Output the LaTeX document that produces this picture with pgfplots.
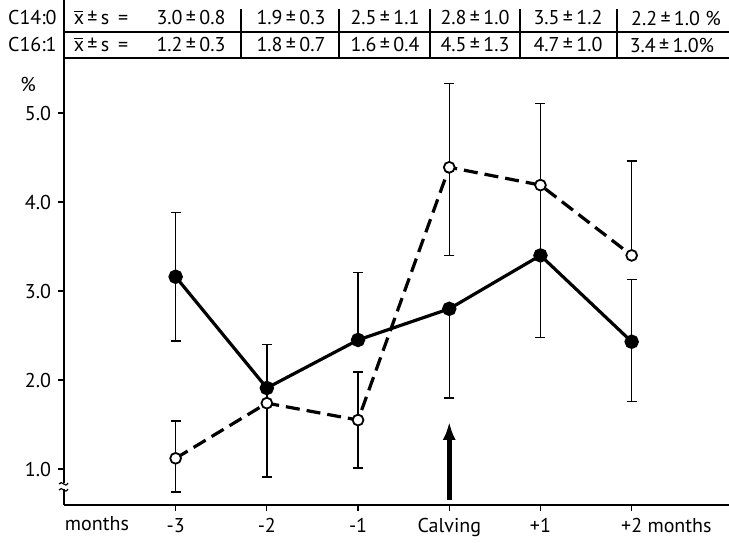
\documentclass[border=0pt]{standalone}
\usepackage{pgfplots}
\pgfplotsset{compat=1.18}
\usetikzlibrary{arrows.meta}
\usepackage{fontspec}
\setmainfont{PT Sans}
\newcommand{\xbar}{\makebox[0pt][l]{\kern0.03em\raisebox{1.25ex}{\rule{0.42em}{0.45pt}}}x}
\begin{document}
\begin{tikzpicture}[font=\fontsize{10}{12}\selectfont]
\useasboundingbox (0,0) rectangle (364.5pt,271pt);
\begin{axis}[
  at={(32pt,18.5pt)}, anchor=south west,
  scale only axis, width=332.5pt, height=252.5pt,
  xmin=-4.224, xmax=3.067, ymin=0.5955, ymax=6.27,
  axis x line*=bottom, axis y line*=left,
  axis line style={line width=1.1pt},
  xtick={-3,-2,-1,0,1,2},
  xticklabels={-3,-2,-1,Calving,+1,+2\rlap{ months}},
  ytick={1,2,3,4,5},
  yticklabels={1.0,2.0,3.0,4.0,5.0},
  tick align=outside, major tick length=3pt,
  tick style={black, line width=0.6pt},
  every tick label/.append style={font=\fontsize{10}{12}\selectfont},
  clip=false,
]
% C16:1 (dashed, open circles)
\addplot[black, line width=1.6pt, dash pattern=on 7pt off 3.5pt,
  mark=*, mark size=2.7pt, mark options={solid, fill=white, draw=black, line width=0.9pt},
  error bars/.cd, y dir=both, y explicit,
  error bar style={solid, line width=0.7pt},
  error mark options={solid, rotate=90, mark size=2.5pt, line width=0.7pt}]
coordinates {
  (-3,1.12) += (0,0.42) -= (0,0.38)
  (-2,1.74) += (0,0.17) -= (0,0.83)
  (-1,1.55) += (0,0.54) -= (0,0.54)
  (0,4.39)  += (0,0.94) -= (0,0.99)
  (1,4.19)  += (0,0.92) -= (0,0.79)
  (2,3.40)  += (0,1.06) -= (0,0)
};
% C14:0 (solid, filled circles)
\addplot[black, line width=1.6pt,
  mark=*, mark size=2.8pt, mark options={solid, fill=black, draw=black},
  error bars/.cd, y dir=both, y explicit,
  error bar style={solid, line width=0.7pt},
  error mark options={solid, rotate=90, mark size=2.5pt, line width=0.7pt}]
coordinates {
  (-3,3.16) += (0,0.72) -= (0,0.72)
  (-2,1.91) += (0,0.49) -= (0,0)
  (-1,2.45) += (0,0.76) -= (0,0)
  (0,2.80)  += (0,0)    -= (0,1.00)
  (1,3.40)  += (0,0)    -= (0,0.92)
  (2,2.43)  += (0,0.70) -= (0,0.67)
};
\draw[line width=2.3pt, -{Latex[length=9pt,width=6.5pt]}] (axis cs:0,0.65) -- (axis cs:0,1.53);
\end{axis}
\begin{scope}[shift={(0pt,271pt)}, x=0.5pt, y=-0.5pt]
  % y-axis break
  \fill[white] (58,483) rectangle (70,489);
  \draw[line width=0.6pt] (59,484) .. controls (62,479) and (65,489) .. (68,483);
  \draw[line width=0.6pt] (59,490) .. controls (62,485) and (65,495) .. (68,489);
  % table
  \draw[line width=0.9pt] (64,32) -- (729,32);
  \draw[line width=0.9pt] (64,58) -- (729,58);
  \foreach \xx in {241,339,430,520,617} \draw[line width=0.6pt] (\xx,9) -- (\xx,58);
  \node[anchor=east, inner sep=0pt] at (57,18) {C14:0};
  \node[anchor=east, inner sep=0pt] at (57,45) {C16:1};
  \node at (101,18) {\xbar\,±\,s\, =};
  \node at (101,45) {\xbar\,±\,s\, =};
  \node at (191,18) {3.0\,±\,0.8};
  \node at (291,18) {1.9\,±\,0.3};
  \node at (385,18) {2.5\,±\,1.1};
  \node at (475,18) {2.8\,±\,1.0};
  \node at (568,18) {3.5\,±\,1.2};
  \node at (676,18) {2.2\,±\,1.0 \%};
  \node at (191,45) {1.2\,±\,0.3};
  \node at (291,45) {1.8\,±\,0.7};
  \node at (385,45) {1.6\,±\,0.4};
  \node at (475,45) {4.5\,±\,1.3};
  \node at (568,45) {4.7\,±\,1.0};
  \node at (672,45) {3.4\,±\,1.0\%};
  \node at (28,84) {\%};
  \node at (97,524) {months};
\end{scope}
\end{tikzpicture}
\end{document}
